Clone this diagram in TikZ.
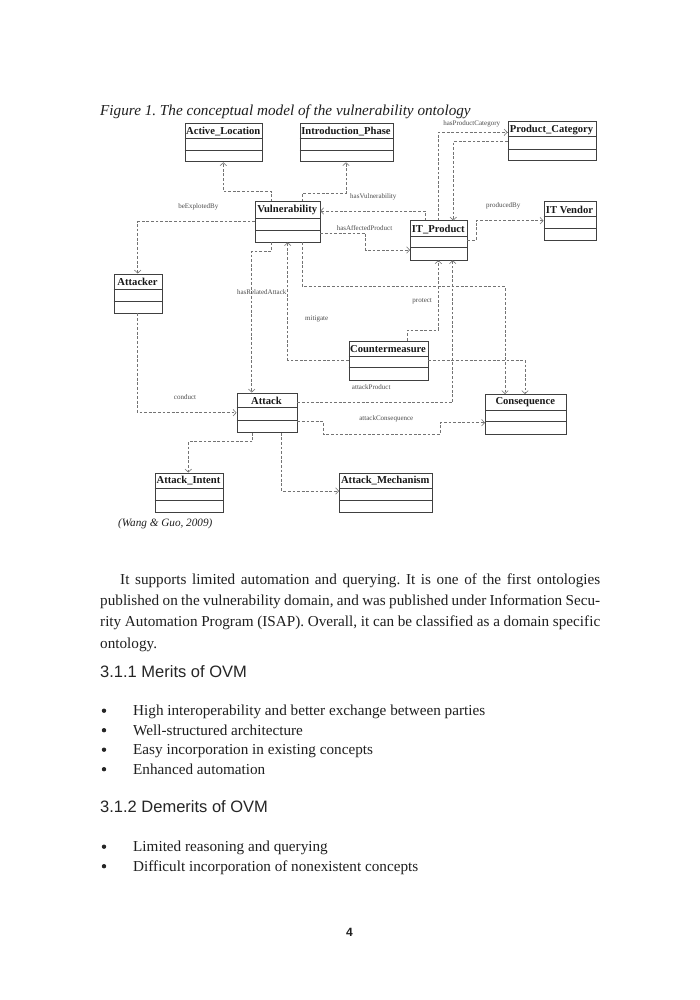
\documentclass[tikz,border=0pt]{standalone}
\usepackage{fontspec}
\setmainfont{Liberation Serif}
\newfontfamily\arialf{Liberation Sans}
\usetikzlibrary{arrows.meta,calc}
\tikzset{
 clsbox/.style={draw=black!75, line width=0.8pt, inner sep=0pt},
 clstitle/.style={font=\fontsize{10.6}{12}\selectfont\bfseries, text=black!90, inner sep=0pt},
 clsline/.style={draw=black!75, line width=0.8pt},
 conn/.style={draw=black!55, line width=0.6pt, dash pattern=on 2.8pt off 1.8pt, -{Straight Barb[length=3pt,width=6.5pt]}},
 rel/.style={font=\fontsize{7}{8}\selectfont, text=black!70, inner sep=0pt},
 body/.style={font=\fontsize{15.2}{21.3}\selectfont, text=black!88, inner sep=0pt, anchor=base west},
 head/.style={font=\arialf\fontsize{16.5}{19}\selectfont, text=black!85, inner sep=0pt, anchor=base west},
 bul/.style={circle, fill=black!85, inner sep=0pt, minimum size=4.4pt},
}
\newcommand\umlcls[8]{%
  \node[clsbox, minimum width={(#4-#2)*1pt}, minimum height={(#5-#3)*1pt}, anchor=north west] (#1) at (#2,#3) {};
  \node[clstitle] at ({(#2+#4)/2},{(#3+#6)/2+0.5}) {#8};
  \draw[clsline] (#2,#6) -- (#4,#6) (#2,#7) -- (#4,#7);
}
\begin{document}
\frenchspacing
\begin{tikzpicture}[x=1pt,y=-1pt]
\useasboundingbox[fill=white] (0,0) rectangle (700,1000);
% caption
\node[body, font=\fontsize{15.2}{18}\selectfont\itshape] (cap) at (100,116) {Figure 1. The conceptual model of the vulnerability ontology};
% classes
\umlcls{AL}{184.5}{123}{262}{161.5}{138.3}{150}{Active\_Location}
\umlcls{IP}{299.5}{123}{392.5}{161.5}{138.3}{150}{Introduction\_Phase}
\umlcls{PC}{507.5}{121.5}{595.5}{160.5}{136.7}{149.3}{Product\_Category}
\umlcls{IV}{543.5}{201.5}{595.5}{240}{216.7}{228.3}{IT Vendor}
\umlcls{ITP}{410}{220.5}{466.5}{259.5}{236.7}{247.7}{IT\_Product}
\umlcls{VUL}{255}{201.5}{319.5}{241.5}{218.3}{230}{Vulnerability}
\umlcls{ATR}{113.5}{273.5}{161.5}{312.5}{289}{301}{Attacker}
\umlcls{ATK}{236.5}{392.5}{296.5}{432}{407.7}{420}{Attack}
\umlcls{CM}{348.5}{340.5}{427.5}{379.5}{356}{367.7}{Countermeasure}
\umlcls{CQ}{485}{394}{565.5}{433.5}{410}{421.7}{Consequence}
\umlcls{AI}{154.5}{472.5}{222.5}{511.5}{488.3}{500}{Attack\_Intent}
\umlcls{AM}{339}{472.5}{431.5}{511.5}{488.3}{500}{Attack\_Mechanism}
% connectors
\draw[conn] (271.7,0 |- VUL.north) -- (271.7,191.7) -| (223.3,0 |- AL.south);
\draw[conn] (302.7,0 |- VUL.north) -- (302.7,193) -| (346,0 |- IP.south);
\draw[conn] (425,0 |- ITP.north) -- (425,211) -- (0,211 -| VUL.east);
\draw[conn] (0,233.3 -| VUL.east) -| (365.7,250) -- (0,250 -| ITP.west);
\draw[conn] (438.3,0 |- ITP.north) |- (0,132.3 -| PC.west);
\draw[conn] (0,141.7 -| PC.west) -| (453.3,0 |- ITP.north);
\draw[conn] (0,240 -| ITP.east) -| (476,220.7) -- (0,220.7 -| IV.west);
\draw[conn] (0,221.7 -| VUL.west) -| (137.7,0 |- ATR.north);
\draw[conn] (271.7,0 |- VUL.south) |- (251.7,251) -- (251.7,0 |- ATK.north);
\draw[conn] (302.7,0 |- VUL.south) |- (505,286.7) -- (505,0 |- CQ.north);
\draw[conn] (407.3,0 |- CM.north) |- (438.3,330) -- (438.3,0 |- ITP.south);
\draw[conn] (0,360 -| CM.west) -| (287.7,0 |- VUL.south);
\draw[conn] (0,360 -| CM.east) -| (525,0 |- CQ.north);
\draw[conn] (0,402.7 -| ATK.east) -| (452.7,0 |- ITP.south);
\draw[conn] (0,421.7 -| ATK.east) -| (323.3,434) -| (440,422.7) -- (0,422.7 -| CQ.west);
\draw[conn] (137.7,0 |- ATR.south) |- (0,412.7 -| ATK.west);
\draw[conn] (252.7,0 |- ATK.south) |- (188.3,441.7) -- (188.3,0 |- AI.north);
\draw[conn] (281.7,0 |- ATK.south) |- (0,491 -| AM.west);
% relation labels
\node[rel] (l1) at (198.3,207.3) {beExplotedBy};
\node[rel] (l2) at (373.3,196.7) {hasVulnerability};
\node[rel] (l3) at (364.5,228.3) {hasAffectedProduct};
\node[rel] (l4) at (471.7,124) {hasProductCategory};
\node[rel] (l5) at (503.3,206) {producedBy};
\node[rel] (l6) at (261.7,292.3) {hasRelatedAttack};
\node[rel] (l7) at (316.7,319) {mitigate};
\node[rel] (l8) at (422.2,301.7) {protect};
\node[rel] (l9) at (371.2,387.3) {attackProduct};
\node[rel] (l10) at (386.3,419.3) {attackConsequence};
\node[rel] (l11) at (185,396.7) {conduct};
% citation
\node[body, font=\fontsize{11.2}{13}\selectfont\itshape] (cite) at (118,526) {(Wang \& Guo, 2009)};
% paragraph
\node[body] (para) at (100,584) {\parbox[t]{500pt}{\fontsize{15.2}{21.4}\selectfont\frenchspacing\hspace*{20pt}It supports limited automation and querying. It is one of the first ontologies\linebreak published on the vulnerability domain, and was published under Information Secu-\linebreak rity Automation Program (ISAP). Overall, it can be classified as a domain specific\linebreak ontology.}};
% headings and lists
\node[head] (h1) at (100,677) {3.1.1 Merits of OVM};
\foreach \yy/\tt [count=\i] in {715.5/High interoperability and better exchange between parties, 735/Well-structured architecture, 754.5/Easy incorporation in existing concepts, 774/Enhanced automation}{
  \node[bul] (mb\i) at (104,\yy-4.8) {};
  \node[body] (mt\i) at (133,\yy) {\tt};
}
\node[head] (h2) at (100,812) {3.1.2 Demerits of OVM};
\foreach \yy/\tt [count=\i] in {851.5/Limited reasoning and querying, 871/Difficult incorporation of nonexistent concepts}{
  \node[bul] (db\i) at (104,\yy-4.8) {};
  \node[body] (dt\i) at (133,\yy) {\tt};
}
\node[body, anchor=base, font=\arialf\bfseries\fontsize{12}{14}\selectfont] (pg) at (349.5,936) {4};
\end{tikzpicture}
\end{document}
